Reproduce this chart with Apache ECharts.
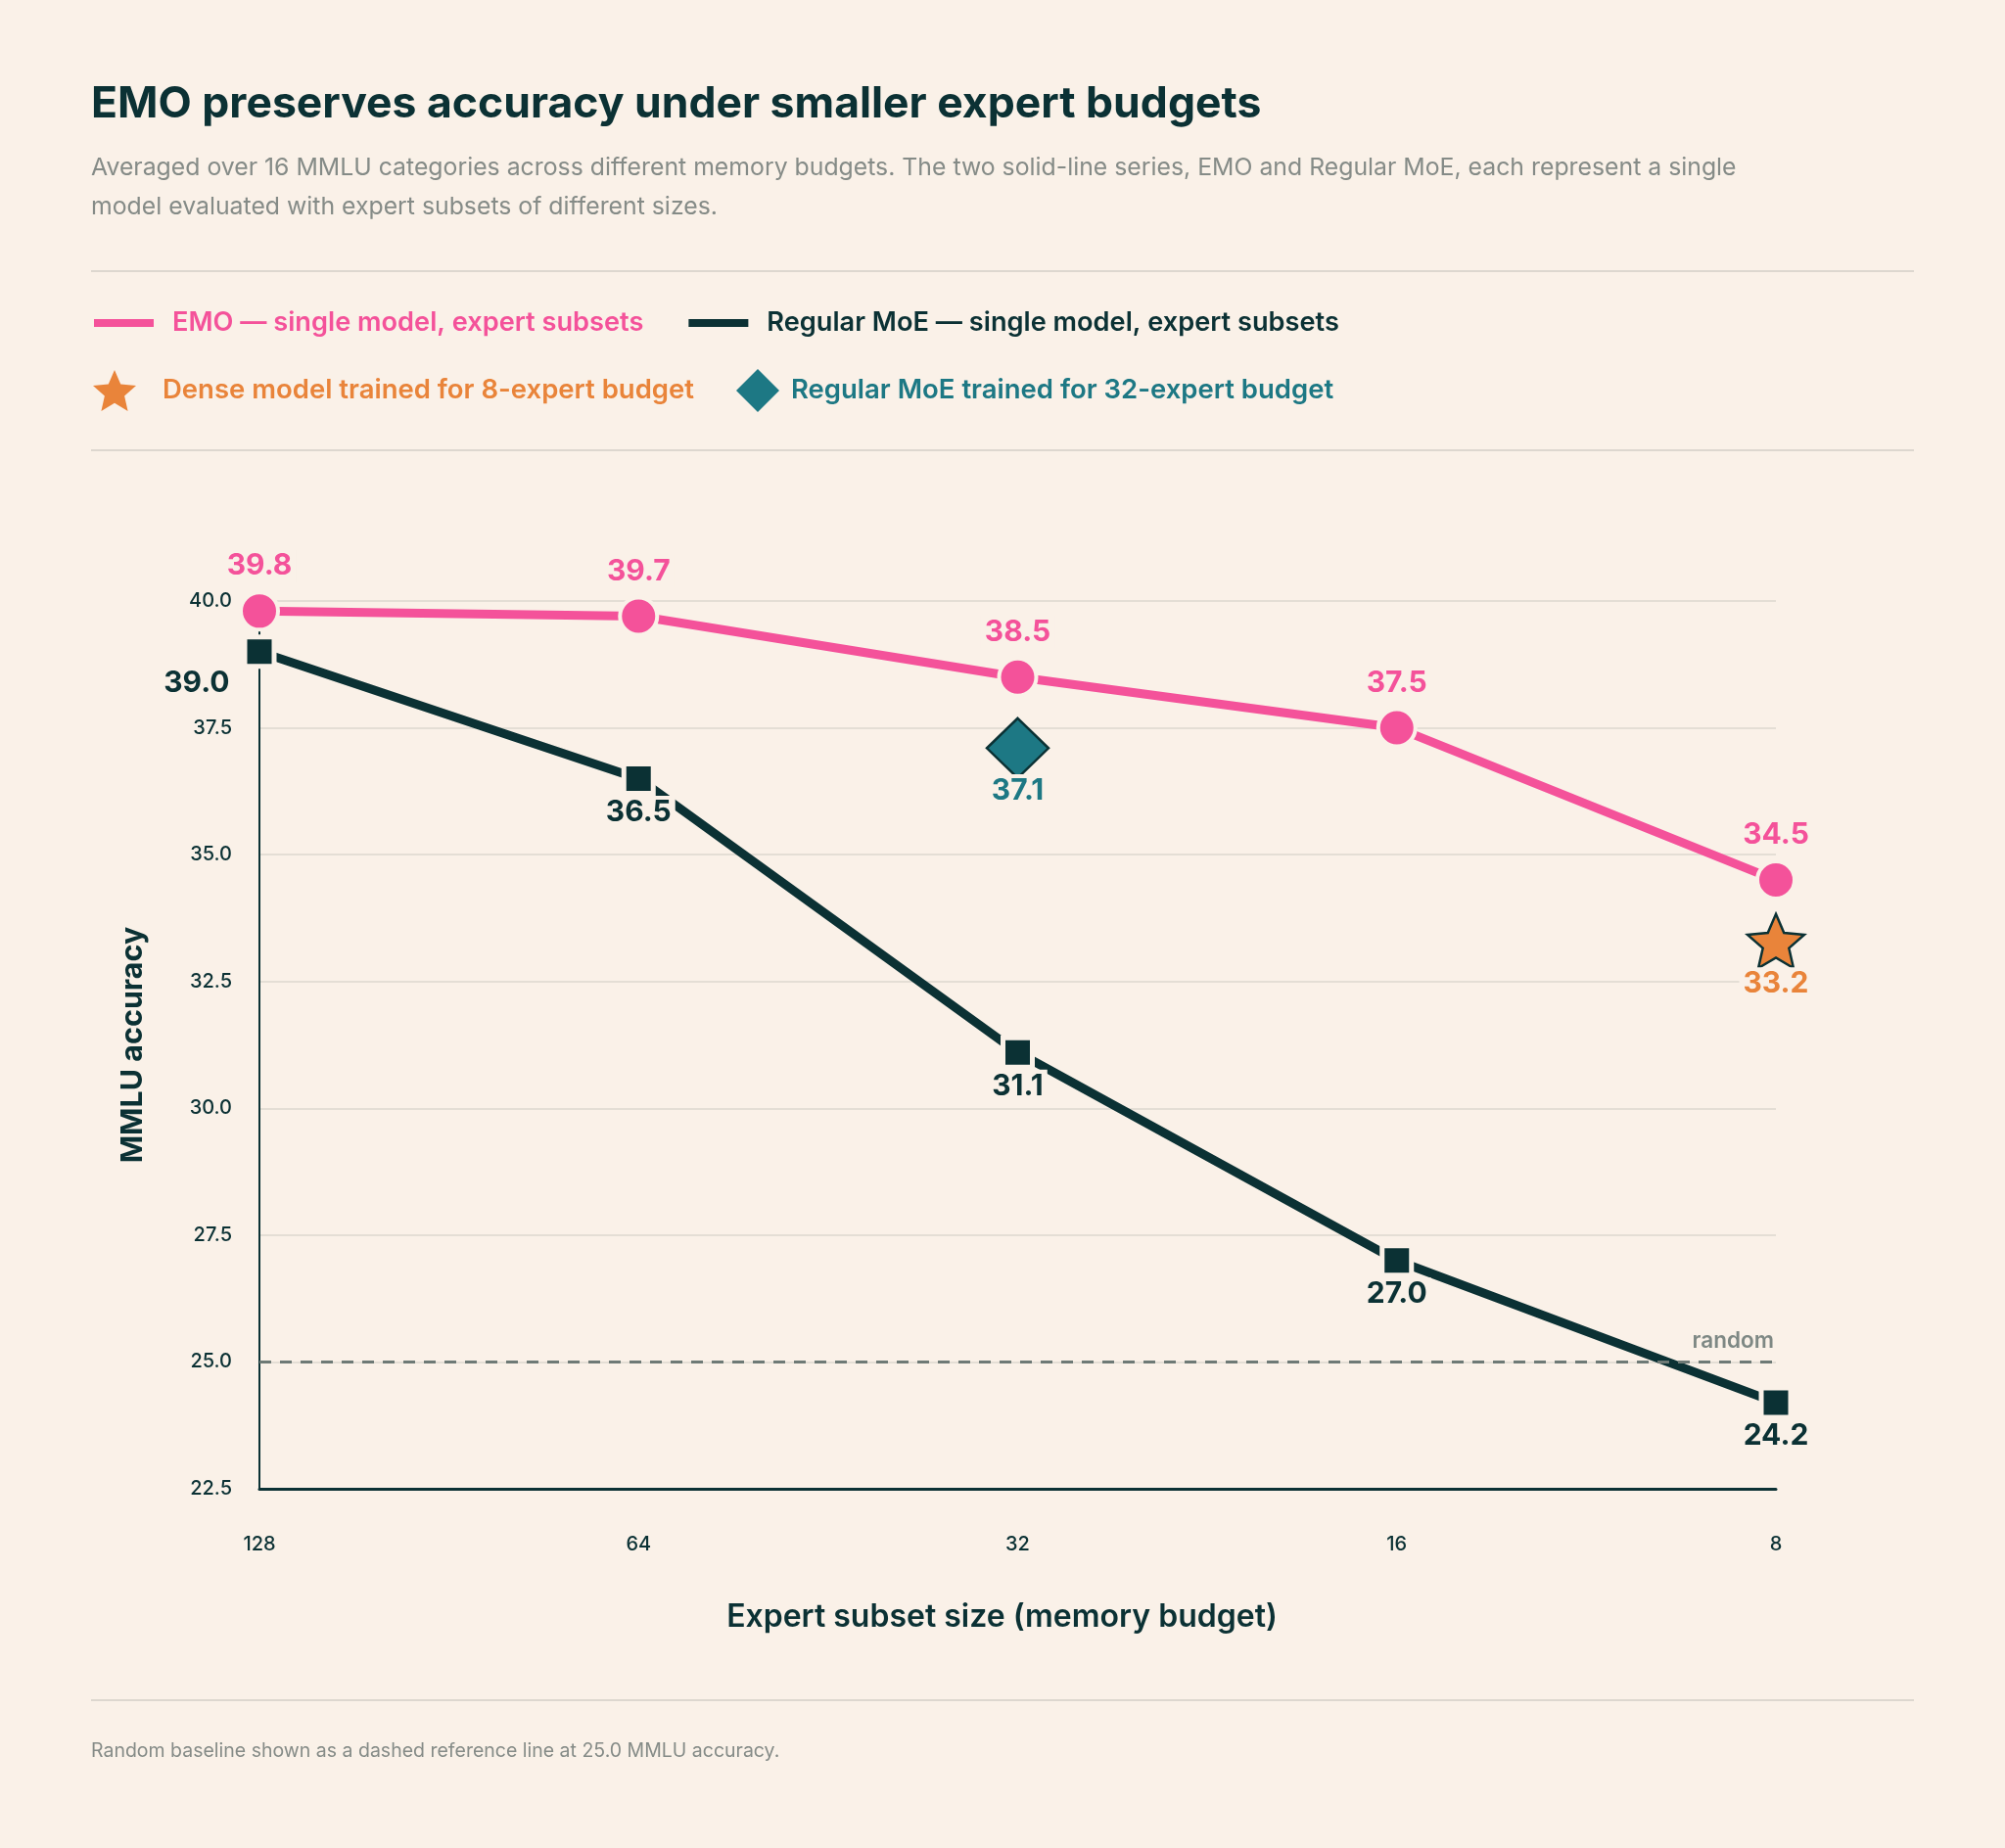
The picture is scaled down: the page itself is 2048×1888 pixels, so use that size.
<!DOCTYPE html>
<html>
<head>
<meta charset="utf-8">
<script src="https://cdn.jsdelivr.net/npm/echarts@6/dist/echarts.min.js"></script>
<style>
  html, body { margin: 0; padding: 0; background: #FAF1E8; }
  #chart { width: 2048px; height: 1888px; }
</style>
</head>
<body>
<div id="chart"></div>
<script>
// Data
const budgets = ['128', '64', '32', '16', '8']
const emoAcc = [39.8, 39.7, 38.5, 37.5, 34.5]
const moeAcc = [39.0, 36.5, 31.1, 27.0, 24.2]
const densePoint = ['8', 33.2]
const moe32Point = ['32', 37.1]
const randomBaseline = 25.0
const yMin = 22.5
const yMax = 40.0
const yStep = 2.5

const names = {
  emo: 'EMO — single model, expert subsets',
  moe: 'Regular MoE — single model, expert subsets',
  dense: 'Dense model trained for 8-expert budget',
  moe32: 'Regular MoE trained for 32-expert budget',
}

const BG = '#FAF1E8'
const PINK = '#F4529A'
const DARK = '#0B3134'
const TEAL = '#1D7884'
const ORANGE = '#E9843A'
const GRID = '#DDD7CF'
const GREY = '#858B87'
const FONT = 'Inter'

// five point star symbol
function starPath() {
  const pts = []
  for (let i = 0; i < 10; i++) {
    const r = i % 2 === 0 ? 50 : 23
    const a = -Math.PI / 2 + i * Math.PI / 5
    pts.push((50 + r * Math.cos(a)).toFixed(2) + ' ' + (50 + r * Math.sin(a)).toFixed(2))
  }
  return 'path://M' + pts.join(' L') + ' Z'
}
const STAR = starPath()

const chart = echarts.init(document.getElementById('chart'))

const valueLabel = (color, position, distance) => ({
  show: true,
  position: position,
  distance: distance,
  formatter: (p) => (Array.isArray(p.value) ? p.value[1] : p.value).toFixed(1),
  color: color,
  opacity: 1,
  fontFamily: FONT,
  fontSize: 30,
  fontWeight: 700,
  lineHeight: 34,
  padding: [0, 4],
  backgroundColor: BG,
})

const option = {
  backgroundColor: BG,
  animation: false,
  title: [
    {
      text: 'EMO preserves accuracy under smaller expert budgets',
      left: 93, top: 80, padding: 0,
      textStyle: { fontFamily: FONT, fontSize: 44.5, fontWeight: 700, color: DARK, lineHeight: 54 },
    },
    {
      text: 'Averaged over 16 MMLU categories across different memory budgets. The two solid-line series, EMO and Regular MoE, each represent a single\nmodel evaluated with expert subsets of different sizes.',
      left: 93, top: 152, padding: 0,
      textStyle: { fontFamily: FONT, fontSize: 24.8, fontWeight: 400, color: GREY, lineHeight: 40 },
    },
    {
      text: 'Random baseline shown as a dashed reference line at 25.0 MMLU accuracy.',
      left: 93, top: 1777, padding: 0,
      textStyle: { fontFamily: FONT, fontSize: 19.5, fontWeight: 400, color: GREY, lineHeight: 24 },
    },
  ],
  graphic: [277, 460, 1737].map((y) => ({
    type: 'line',
    shape: { x1: 93, y1: y, x2: 1955, y2: y },
    style: { stroke: GRID, lineWidth: 2 },
    silent: true,
  })),
  legend: [
    {
      left: 94, top: 314, padding: 0,
      selectedMode: false,
      itemWidth: 63, itemHeight: 10, itemGap: 44,
      textStyle: { fontFamily: FONT, fontSize: 27.2, fontWeight: 600, lineHeight: 32, padding: [0, 0, 0, 13] },
      data: [
        { name: names.emo, icon: 'rect', textStyle: { color: PINK } },
        { name: names.moe, icon: 'rect', textStyle: { color: DARK } },
      ],
    },
    {
      left: 95, top: 377, padding: 0,
      selectedMode: false,
      itemWidth: 44, itemHeight: 44, itemGap: 43,
      textStyle: { fontFamily: FONT, fontSize: 27.5, fontWeight: 600, lineHeight: 32 },
      data: [
        { name: names.dense, icon: STAR, itemStyle: { borderWidth: 0, opacity: 1 }, textStyle: { color: ORANGE, padding: [0, 0, 0, 22] } },
        { name: names.moe32, icon: 'diamond', itemStyle: { borderWidth: 0, opacity: 1 }, textStyle: { color: TEAL, padding: [0, 0, 0, 7] } },
      ],
    },
  ],
  grid: { left: 265, right: 234, top: 614, bottom: 367 },
  xAxis: {
    type: 'category',
    data: budgets,
    boundaryGap: false,
    name: 'Expert subset size (memory budget)',
    nameLocation: 'middle',
    nameGap: 115,
    nameTextStyle: { fontFamily: FONT, fontSize: 32, fontWeight: 600, color: DARK, padding: [0, 32, 0, 0] },
    axisLine: { show: true, lineStyle: { color: DARK, width: 3 } },
    axisTick: { show: false },
    axisLabel: { margin: 47, fontFamily: FONT, fontSize: 20, fontWeight: 500, color: DARK },
    splitLine: { show: false },
  },
  yAxis: {
    type: 'value',
    min: yMin, max: yMax, interval: yStep,
    name: 'MMLU accuracy',
    nameLocation: 'middle',
    nameGap: 114,
    nameTextStyle: { fontFamily: FONT, fontSize: 30.5, fontWeight: 700, color: DARK },
    axisLine: { show: true, lineStyle: { color: DARK, width: 2 } },
    axisTick: { show: false },
    axisLabel: {
      margin: 28, fontFamily: FONT, fontSize: 20, fontWeight: 500, color: DARK,
      formatter: (v) => v.toFixed(1),
    },
    splitLine: { show: true, lineStyle: { color: GRID, width: 1.5 } },
  },
  series: [
    {
      name: names.emo,
      type: 'line',
      z: 3,
      data: emoAcc,
      symbol: 'circle',
      symbolSize: 38,
      lineStyle: { color: PINK, width: 9 },
      itemStyle: { color: PINK, borderColor: BG, borderWidth: 4 },
      label: valueLabel(PINK, 'top', 8),
      markLine: {
        silent: true,
        symbol: 'none',
        data: [{ yAxis: randomBaseline }],
        lineStyle: { color: '#6E7A76', width: 3, type: [12, 9] },
        label: {
          show: true,
          position: 'insideEndTop',
          formatter: 'random',
          fontFamily: FONT, fontSize: 22.5, fontWeight: 600, color: '#7E8884',
          distance: [2, 10],
        },
      },
    },
    {
      name: names.moe,
      type: 'line',
      z: 4,
      data: moeAcc.map((v, i) => i === 0
        ? { value: v, label: { position: 'left', distance: 9, offset: [0, 32] } }
        : v),
      symbol: 'rect',
      symbolSize: 30,
      lineStyle: { color: DARK, width: 9 },
      itemStyle: { color: DARK, borderColor: BG, borderWidth: 5 },
      label: valueLabel(DARK, 'bottom', 0),
    },
    {
      name: names.moe32,
      type: 'scatter',
      z: 5,
      data: [moe32Point],
      symbol: 'diamond',
      symbolSize: [63, 61],
      itemStyle: { color: TEAL, borderColor: DARK, borderWidth: 2.5, opacity: 1 },
      label: valueLabel(TEAL, 'bottom', -5),
    },
    {
      name: names.dense,
      type: 'scatter',
      z: 5,
      data: [densePoint],
      symbol: STAR,
      symbolSize: 58,
      symbolKeepAspect: true,
      symbolOffset: [0, -5],
      itemStyle: { color: ORANGE, borderColor: DARK, borderWidth: 2.5, opacity: 1 },
      label: valueLabel(ORANGE, 'bottom', -2),
    },
  ],
}

chart.setOption(option)
</script>
</body>
</html>
